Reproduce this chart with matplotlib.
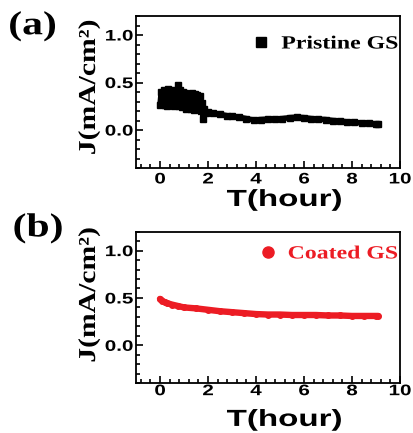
import matplotlib
matplotlib.use("Agg")
import matplotlib.pyplot as plt
from matplotlib.ticker import MultipleLocator
from matplotlib.lines import Line2D
from matplotlib.patheffects import AbstractPathEffect
from matplotlib.transforms import Affine2D

# Current density vs. time for the pristine sample
t_pristine = [0.00, 0.05, 0.10, 0.15, 0.20, 0.25, 0.30, 0.35, 0.40, 0.45,
              0.50, 0.55, 0.60, 0.65, 0.70, 0.75, 0.80, 0.85, 0.90, 0.95,
              1.00, 1.05, 1.10, 1.15, 1.20, 1.25, 1.30, 1.35, 1.40, 1.45,
              1.50, 1.55, 1.60, 1.65, 1.70, 1.75, 1.80, 1.85, 1.90, 2.00,
              2.20, 2.50, 2.80, 3.00, 3.30, 3.60, 3.90, 4.20, 4.50, 4.80,
              5.10, 5.40, 5.70, 6.00, 6.30, 6.60, 6.90, 7.20, 7.50, 7.80,
              8.10, 8.40, 8.70, 9.00, 9.10]
j_pristine = [0.26, 0.40, 0.27, 0.42, 0.26, 0.41, 0.25, 0.43, 0.27, 0.40,
              0.26, 0.42, 0.25, 0.41, 0.26, 0.47, 0.25, 0.42, 0.24, 0.40,
              0.25, 0.39, 0.22, 0.36, 0.23, 0.38, 0.22, 0.39, 0.21, 0.38,
              0.23, 0.37, 0.22, 0.36, 0.20, 0.28, 0.12, 0.22, 0.18, 0.19,
              0.18, 0.165, 0.15, 0.145, 0.135, 0.12, 0.105, 0.11, 0.115, 0.115,
              0.12, 0.13, 0.135, 0.13, 0.12, 0.115, 0.11, 0.10, 0.095, 0.085,
              0.08, 0.075, 0.07, 0.065, 0.065]

# Current density vs. time for the coated sample
t_coated = [0.00, 0.10, 0.20, 0.30, 0.50, 0.75, 1.00, 1.50, 2.00, 2.50,
            3.00, 3.50, 4.00, 4.50, 5.00, 5.50, 6.00, 6.50, 7.00, 7.50,
            8.00, 8.50, 9.00, 9.10]
j_coated = [0.49, 0.47, 0.455, 0.445, 0.43, 0.415, 0.40, 0.39, 0.375, 0.36,
            0.35, 0.34, 0.33, 0.325, 0.325, 0.32, 0.32, 0.32, 0.315, 0.315,
            0.31, 0.31, 0.31, 0.31]

labels = ["Pristine GS", "Coated GS"]
panel_tags = ["(a)", "(b)"]
x_ticks = [0, 2, 4, 6, 8, 10]
y_ticks = [0.0, 0.5, 1.0]

RED = "#ec1c24"
SANS = "Liberation Sans"
SERIF = "Liberation Serif"


class Widen(AbstractPathEffect):
    """Draw glyphs widened along the reading direction."""

    def __init__(self, sx, anchor="center"):
        super().__init__()
        self.sx = sx
        self.anchor = anchor

    def draw_path(self, renderer, gc, tpath, affine, rgbFace=None):
        xs = tpath.vertices[:, 0]
        if len(xs) == 0:
            renderer.draw_path(gc, tpath, affine, rgbFace)
            return
        if self.anchor == "left":
            x0 = xs.min()
        elif self.anchor == "right":
            x0 = xs.max()
        else:
            x0 = 0.5 * (xs.min() + xs.max())
        pre = Affine2D().translate(-x0, 0).scale(self.sx, 1).translate(x0, 0)
        renderer.draw_path(gc, tpath, pre + affine, rgbFace)


fig = plt.figure(figsize=(4.14, 4.33), dpi=100)
ax_a = fig.add_axes([0.3285, 0.612, 0.6375, 0.351])
ax_b = fig.add_axes([0.3285, 0.115, 0.6375, 0.350])


def style_axes(ax, xpad, xlabel_y, ylabel_y):
    ax.set_xlim(-1, 10)
    ax.set_ylim(-0.4, 1.2)
    ax.set_xticks(x_ticks)
    ax.set_yticks(y_ticks)
    ax.set_yticklabels([f"{v:.1f}" for v in y_ticks])
    ax.xaxis.set_minor_locator(MultipleLocator(0.4))
    ax.yaxis.set_minor_locator(MultipleLocator(0.1))
    ax.tick_params(which="both", direction="in", top=False, right=False,
                   width=1.2, colors="black")
    ax.tick_params(which="major", length=5)
    ax.tick_params(which="minor", length=3)
    ax.tick_params(axis="x", which="major", pad=xpad)
    ax.tick_params(axis="y", which="major", pad=2)
    for lab in ax.get_xticklabels() + ax.get_yticklabels():
        lab.set_fontfamily(SANS)
        lab.set_fontweight("bold")
        lab.set_fontsize(11)
    for sp in ax.spines.values():
        sp.set_linewidth(1.3)
    ax.set_xlabel("T(hour)", fontfamily=SANS, fontweight="bold", fontsize=16.8)
    ax.xaxis.label.set_va("baseline")
    ax.xaxis.set_label_coords(0.5625, xlabel_y)
    ax.xaxis.label.set_path_effects([Widen(1.42)])
    ax.set_ylabel("J(mA/cm²)", fontfamily=SERIF, fontweight="bold",
                  fontsize=17.5)
    ax.yaxis.label.set_va("center")
    ax.yaxis.set_label_coords(-0.178, ylabel_y)
    ax.yaxis.label.set_path_effects([Widen(1.22)])


ax_a.plot(t_pristine, j_pristine, color="black", lw=4, marker="s",
          ms=4, solid_joinstyle="round")
ax_b.plot(t_coated, j_coated, color=RED, lw=4.6, marker="o", ms=4,
          solid_capstyle="round")

style_axes(ax_a, 3.2, -0.25, 0.53)
style_axes(ax_b, 0.7, -0.282, 0.582)

h_a = Line2D([], [], color="black", marker="s", ls="none", ms=6.5)
h_b = Line2D([], [], color=RED, marker="o", ls="none", ms=8)
legend_font = {"family": SERIF, "weight": "bold", "size": 13.4}
leg_a = ax_a.legend([h_a], [labels[0]], loc="center right",
                    bbox_to_anchor=(1.0, 0.816), frameon=False,
                    prop=legend_font, handlelength=1.0,
                    handletextpad=1.95, borderpad=0.1, borderaxespad=0)
leg_b = ax_b.legend([h_b], [labels[1]], loc="center right",
                    bbox_to_anchor=(1.0, 0.853), frameon=False,
                    prop=legend_font, handlelength=1.0,
                    handletextpad=1.84, borderpad=0.1, borderaxespad=0)
for leg in (leg_a, leg_b):
    for t in leg.get_texts():
        t.set_path_effects([Widen(1.28, "right")])
for t in leg_b.get_texts():
    t.set_color(RED)

tag_a = fig.text(32.5 / 414, 1 - 26 / 433, panel_tags[0], fontfamily=SERIF,
                 fontweight="bold", fontsize=24, ha="center", va="center")
tag_b = fig.text(38 / 414, 1 - 228 / 433, panel_tags[1], fontfamily=SERIF,
                 fontweight="bold", fontsize=24, ha="center", va="center")
for t in (tag_a, tag_b):
    t.set_path_effects([Widen(1.25)])

# tick labels exist once the figure is drawn; widen them afterwards
fig.canvas.draw()
for ax in (ax_a, ax_b):
    for lab in ax.get_xticklabels():
        lab.set_path_effects([Widen(1.35)])
    for lab in ax.get_yticklabels():
        lab.set_path_effects([Widen(1.35, "right")])

fig.savefig("out.png", dpi=100)
